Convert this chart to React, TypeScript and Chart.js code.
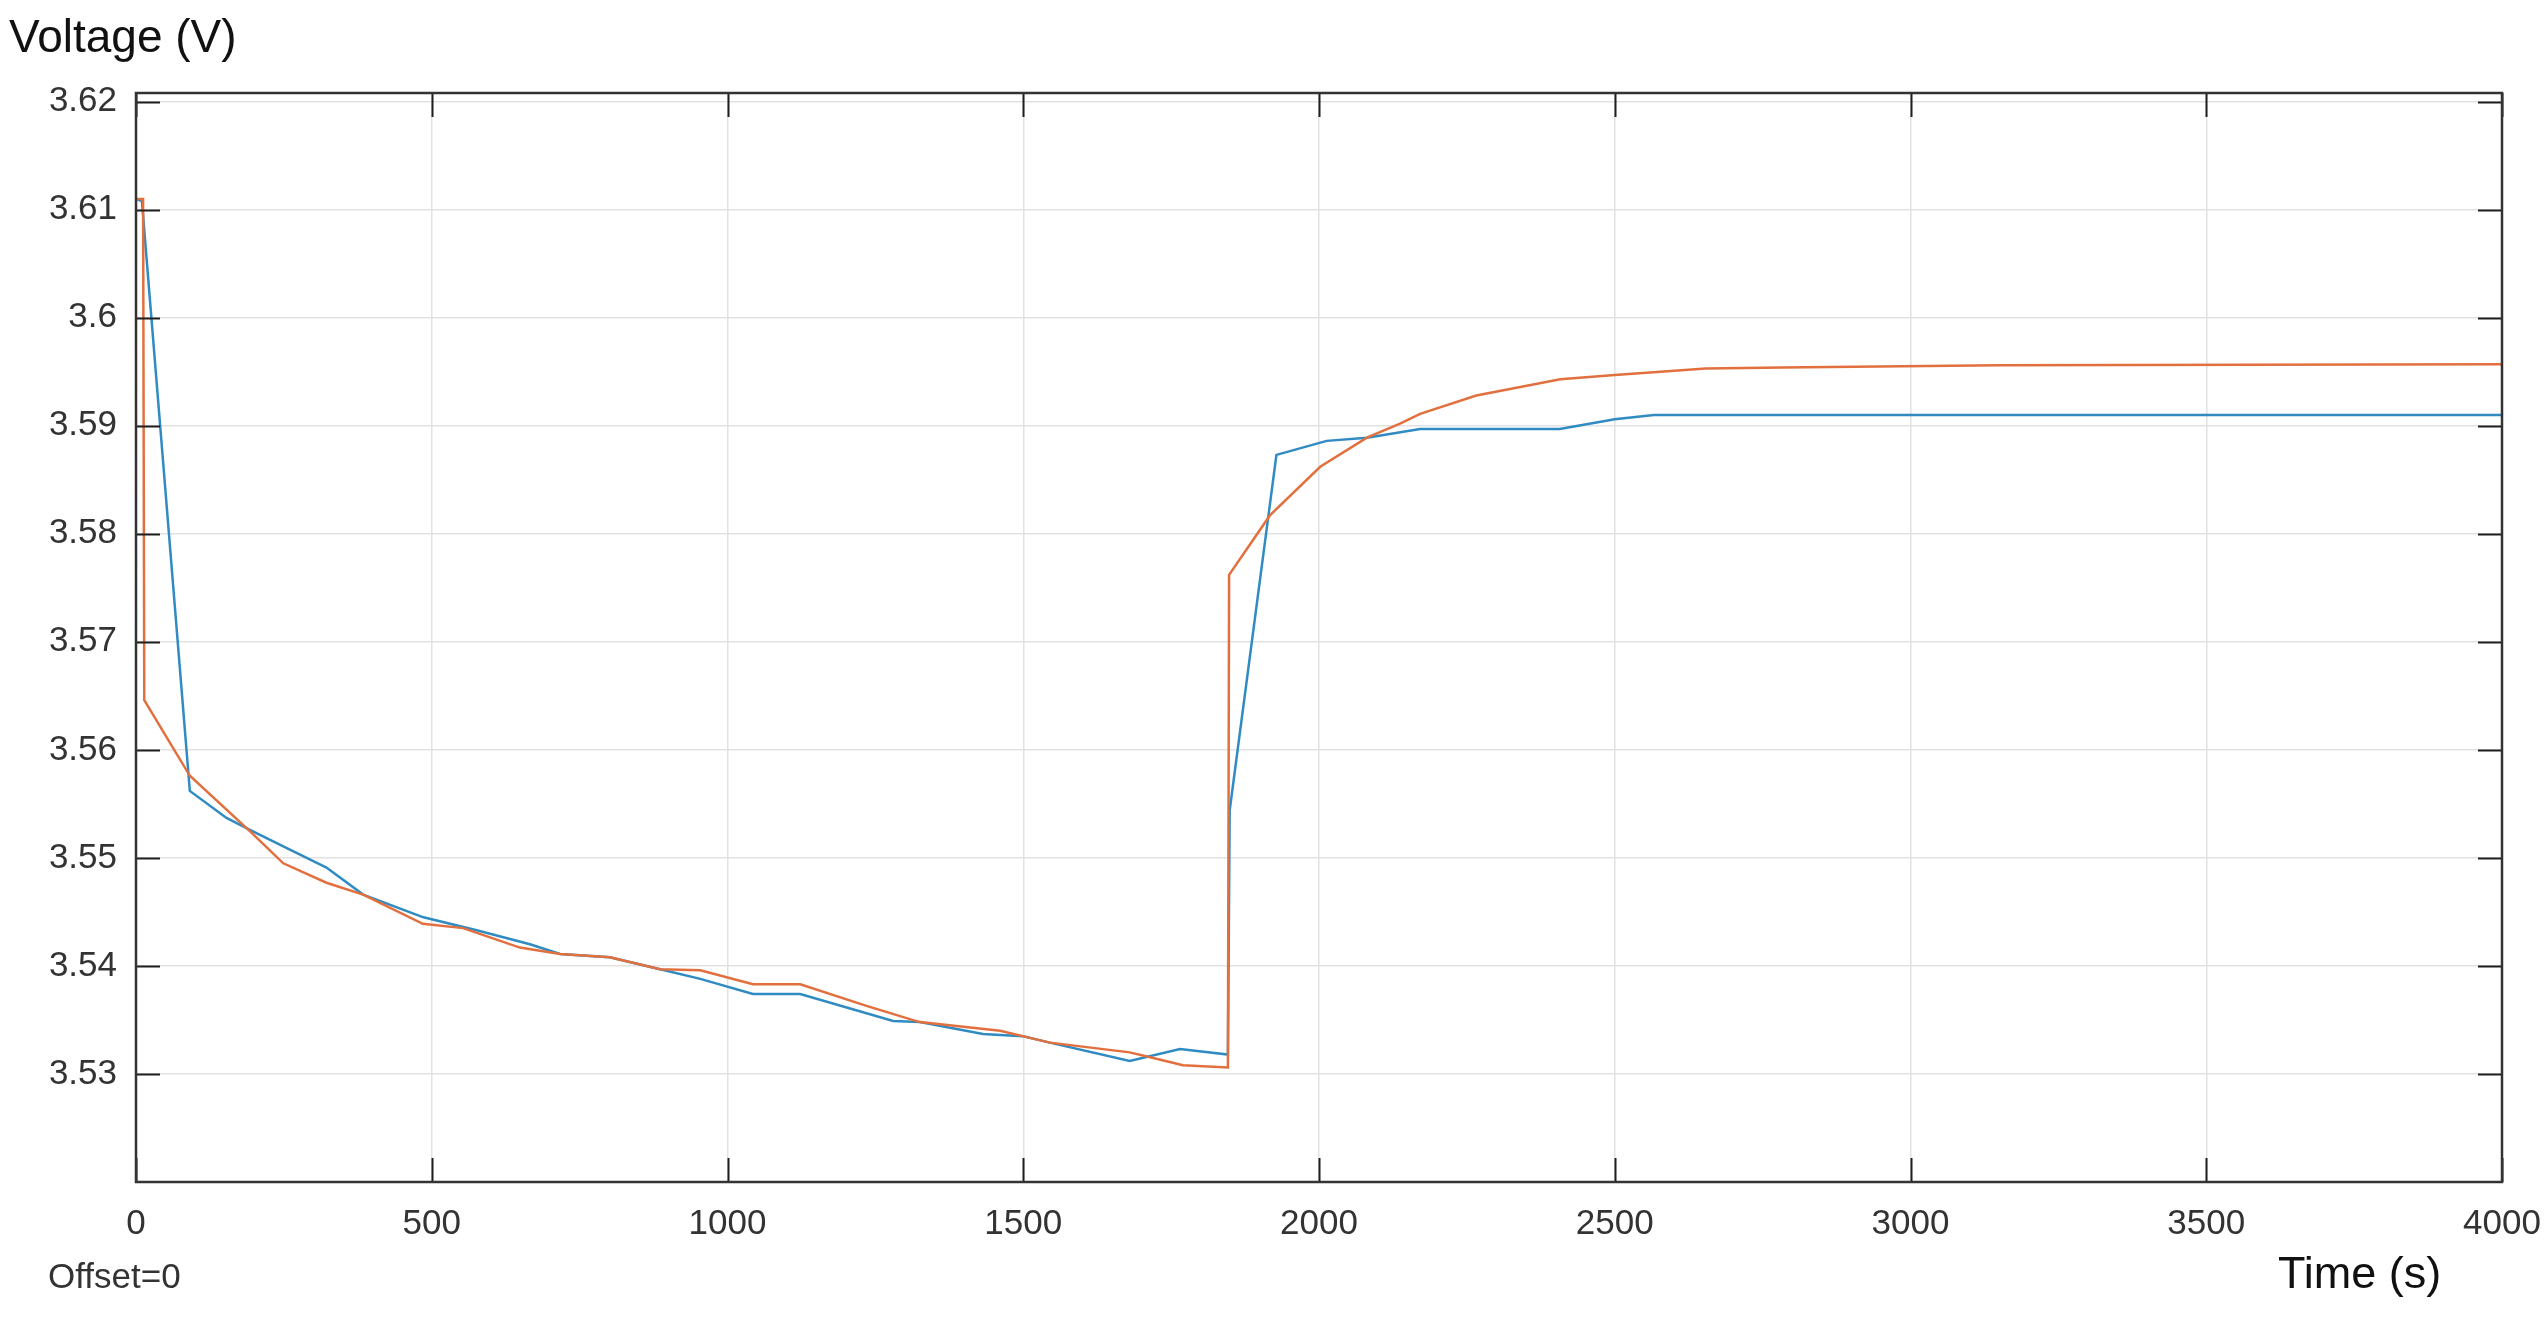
import React, { useEffect, useRef } from "react";
import { Chart, registerables } from "chart.js";

Chart.register(...registerables);

// ---- data ----
const blueTime = [
  0, 10, 91, 153, 196, 255, 322, 384, 486, 576, 666, 717, 801, 886, 954, 1043, 1123,
  1280, 1325, 1432, 1499, 1545, 1680, 1765, 1846, 1849, 1928, 2013, 2081, 2171, 2407,
  2500, 2566, 4000,
];
const blueVoltage = [
  3.611, 3.6108, 3.5562, 3.5537, 3.5525, 3.5509, 3.5491, 3.5466, 3.5445, 3.5433, 3.542,
  3.5411, 3.5408, 3.5397, 3.5388, 3.5374, 3.5374, 3.5349, 3.5348, 3.5337, 3.5335, 3.5329,
  3.5312, 3.5323, 3.5318, 3.5544, 3.5873, 3.5886, 3.5889, 3.5897, 3.5897, 3.5906, 3.591,
  3.591,
];

const orangeTime = [
  0, 12, 14, 91, 196, 249, 322, 384, 485, 553, 649, 717, 801, 886, 954, 1043, 1123, 1235,
  1325, 1461, 1545, 1680, 1725, 1770, 1846, 1848, 1917, 2002, 2081, 2137, 2171, 2266, 2408,
  2500, 2654, 2783, 3150, 4000,
];
const orangeVoltage = [
  3.611, 3.611, 3.5646, 3.5576, 3.5523, 3.5495, 3.5477, 3.5466, 3.5439, 3.5435, 3.5417,
  3.5411, 3.5408, 3.5397, 3.5396, 3.5383, 3.5383, 3.5363, 3.5348, 3.534, 3.5329, 3.532,
  3.5314, 3.5308, 3.5306, 3.5762, 3.5817, 3.5862, 3.5889, 3.5902, 3.5911, 3.5928, 3.5943,
  3.5947, 3.5953, 3.5954, 3.5956, 3.5957,
];

const xTicks = [0, 500, 1000, 1500, 2000, 2500, 3000, 3500, 4000];
const yTicks = [3.53, 3.54, 3.55, 3.56, 3.57, 3.58, 3.59, 3.6, 3.61, 3.62];

const yTitle = "Voltage (V)";
const xTitle = "Time (s)";
const offsetText = "Offset=0";

const W = 2547;
const H = 1318;
const FONT = "'Liberation Sans', Arial, Helvetica, sans-serif";

const framePlugin = {
  id: "scopeFrame",
  afterDatasetsDraw(chart: any) {
    const { ctx, chartArea } = chart;
    const { left, right, top, bottom } = chartArea;
    const xs = chart.scales.x;
    const ys = chart.scales.y;
    const tl = 24;
    ctx.save();
    ctx.strokeStyle = "#1e1e1e";
    ctx.lineWidth = 2;
    ctx.beginPath();
    xTicks.forEach((t) => {
      const px = Math.round(xs.getPixelForValue(t)) + 0.5;
      ctx.moveTo(px, bottom);
      ctx.lineTo(px, bottom - tl);
      ctx.moveTo(px, top);
      ctx.lineTo(px, top + tl);
    });
    yTicks.forEach((v) => {
      const py = Math.round(ys.getPixelForValue(v)) + 0.5;
      ctx.moveTo(left, py);
      ctx.lineTo(left + tl, py);
      ctx.moveTo(right, py);
      ctx.lineTo(right - tl, py);
    });
    ctx.stroke();
    ctx.strokeStyle = "#333333";
    ctx.lineWidth = 2.5;
    ctx.strokeRect(left, top, right - left, bottom - top);
    ctx.restore();
  },
  afterDraw(chart: any) {
    const { ctx } = chart;
    ctx.save();
    ctx.fillStyle = "#111111";
    ctx.textBaseline = "alphabetic";
    ctx.textAlign = "left";
    ctx.font = `46px ${FONT}`;
    ctx.fillText(yTitle, 9, 52);
    ctx.font = `45px ${FONT}`;
    ctx.fillText(xTitle, 2278, 1288);
    ctx.fillStyle = "#333333";
    ctx.font = `35px ${FONT}`;
    ctx.fillText(offsetText, 48, 1288);
    ctx.restore();
  },
};

export default function App() {
  const ref = useRef<HTMLCanvasElement | null>(null);

  useEffect(() => {
    if (!ref.current) return;
    const blueData = blueTime.map((t, i) => ({ x: t, y: blueVoltage[i] }));
    const orangeData = orangeTime.map((t, i) => ({ x: t, y: orangeVoltage[i] }));
    const chart = new Chart(ref.current, {
      type: "line",
      data: {
        datasets: [
          {
            label: "Signal 1",
            data: blueData,
            borderColor: "#2f8bc2",
            borderWidth: 2.5,
            pointRadius: 0,
            tension: 0,
            fill: false,
            order: 1,
          },
          {
            label: "Signal 2",
            data: orangeData,
            borderColor: "#e2703f",
            borderWidth: 2.5,
            pointRadius: 0,
            tension: 0,
            fill: false,
            order: 0,
          },
        ],
      },
      options: {
        responsive: false,
        animation: false,
        devicePixelRatio: 1,
        layout: { padding: { left: 0, top: 93, right: 45, bottom: 0 } },
        plugins: {
          legend: { display: false },
          tooltip: { enabled: false },
          title: { display: false },
        },
        scales: {
          x: {
            type: "linear",
            min: 0,
            max: 4000,
            afterBuildTicks: (s: any) => {
              s.ticks = xTicks.map((v) => ({ value: v }));
            },
            afterFit: (s: any) => {
              s.height = 136;
              s.paddingLeft = 0;
              s.paddingRight = 0;
            },
            grid: { color: "#e2e2e2", lineWidth: 1.5, drawTicks: false },
            border: { display: false },
            ticks: {
              padding: 21,
              color: "#333333",
              font: { family: FONT, size: 35 },
              maxRotation: 0,
              autoSkip: false,
              callback: (v: any) => String(v),
            },
          },
          y: {
            type: "linear",
            min: 3.52,
            max: 3.6208,
            afterBuildTicks: (s: any) => {
              s.ticks = yTicks.map((v) => ({ value: v }));
            },
            afterFit: (s: any) => {
              s.width = 136;
              s.paddingTop = 0;
              s.paddingBottom = 0;
            },
            grid: { color: "#e2e2e2", lineWidth: 1.5, drawTicks: false },
            border: { display: false },
            ticks: {
              padding: 19,
              color: "#333333",
              font: { family: FONT, size: 35 },
              autoSkip: false,
              callback: (v: any) => String(Number(Number(v).toFixed(2))),
            },
          },
        },
      },
      plugins: [framePlugin],
    });
    return () => chart.destroy();
  }, []);

  return (
    <div
      style={{
        position: "fixed",
        left: 0,
        top: 0,
        width: W,
        height: H,
        background: "#ffffff",
      }}
    >
      <canvas ref={ref} width={W} height={H} style={{ width: W, height: H, display: "block" }} />
    </div>
  );
}
